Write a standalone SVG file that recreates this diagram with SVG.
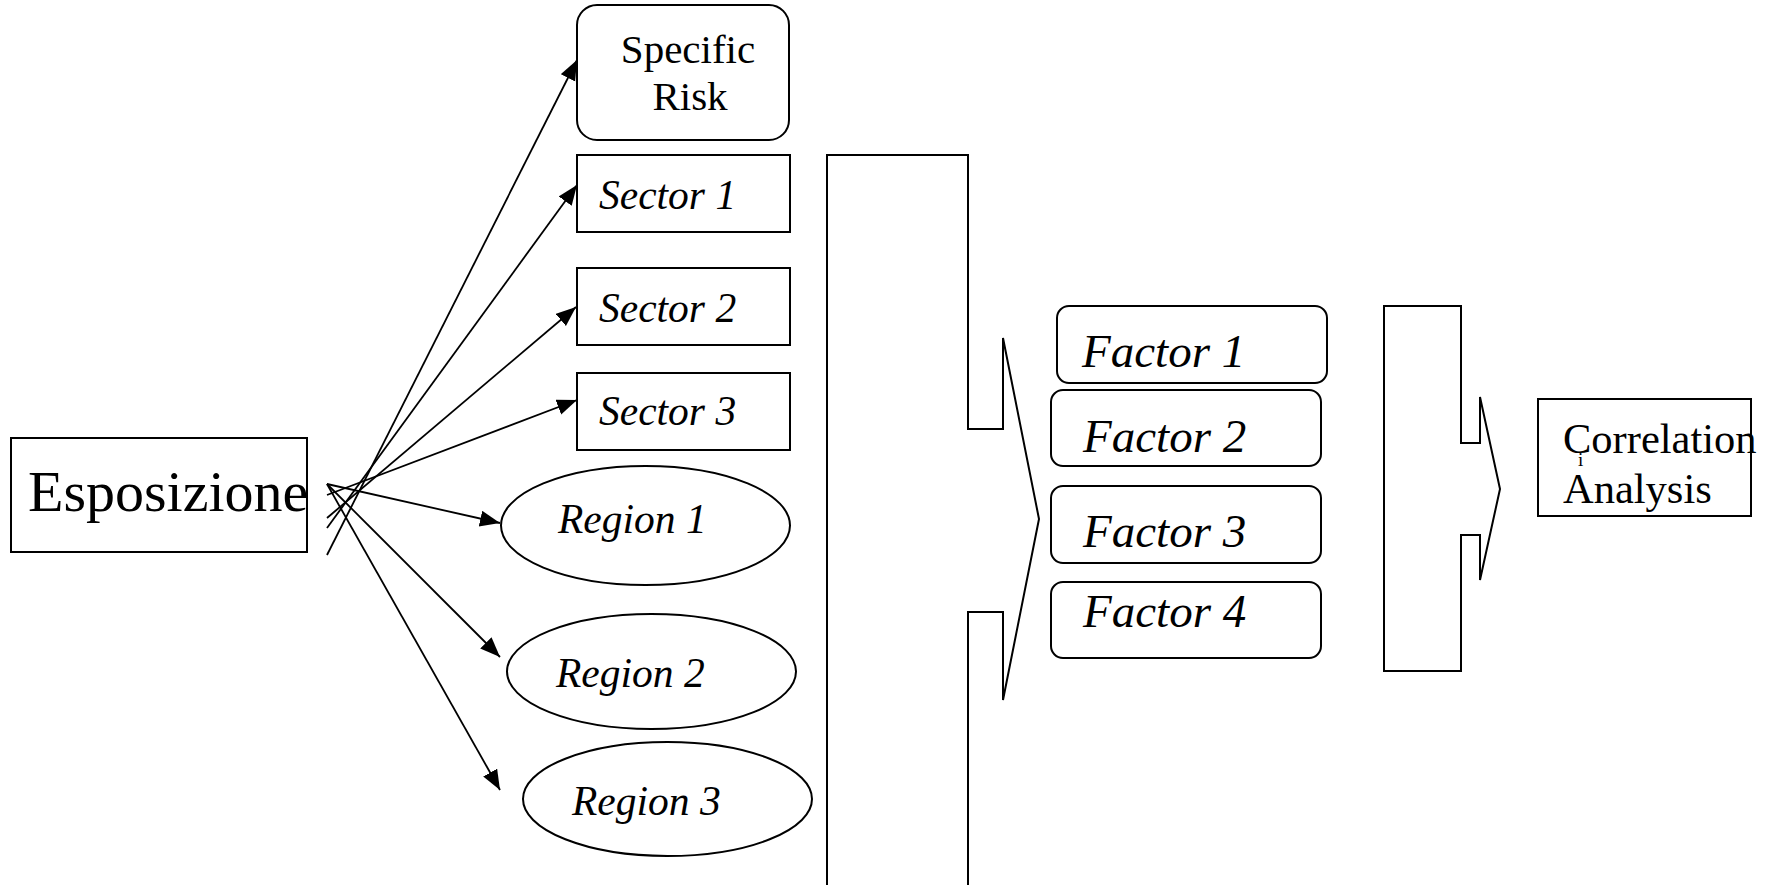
<svg xmlns="http://www.w3.org/2000/svg" width="1774" height="885" viewBox="0 0 1774 885">
<style>
.box{fill:#fff;stroke:#000;stroke-width:2}
.ln{fill:none;stroke:#000;stroke-width:1.8}
.t{font-family:"Liberation Serif","Times New Roman",serif;fill:#000}
.it{font-style:italic}
</style>
<defs>
<marker id="ah" markerUnits="userSpaceOnUse" markerWidth="22" markerHeight="18" refX="20" refY="8" orient="auto">
<path d="M0,0 L20,8 L0,16 z" fill="#000"/>
</marker>
</defs>
<rect width="1774" height="885" fill="#fff"/>
<g id="esposizione">
<rect class="box" x="11" y="438" width="296" height="114"/>
<text class="t" x="28" y="511" font-size="58">Esposizione</text>
</g>
<g id="specific-risk">
<rect class="box" x="577" y="5" width="212" height="135" rx="20"/>
<text class="t" x="688" y="63" font-size="41" text-anchor="middle">Specific</text>
<text class="t" x="690" y="110" font-size="41" text-anchor="middle">Risk</text>
</g>
<g id="sector1">
<rect class="box" x="577" y="155" width="213" height="77"/>
<text class="t it" x="599" y="209" font-size="41.5">Sector 1</text>
</g>
<g id="sector2">
<rect class="box" x="577" y="268" width="213" height="77"/>
<text class="t it" x="599" y="322" font-size="41.5">Sector 2</text>
</g>
<g id="sector3">
<rect class="box" x="577" y="373" width="213" height="77"/>
<text class="t it" x="599" y="425" font-size="41.5">Sector 3</text>
</g>
<g id="region1">
<ellipse class="box" cx="645.5" cy="525.5" rx="144.5" ry="59.5"/>
<text class="t it" x="558" y="533" font-size="41.5">Region 1</text>
</g>
<g id="region2">
<ellipse class="box" cx="651.5" cy="671.5" rx="144.5" ry="57.5"/>
<text class="t it" x="556" y="687" font-size="41.5">Region 2</text>
</g>
<g id="region3">
<ellipse class="box" cx="667.5" cy="799" rx="144.5" ry="57"/>
<text class="t it" x="572" y="815" font-size="41.5">Region 3</text>
</g>
<g id="big-arrow-1">
<polygon class="box" points="827,155 968,155 968,429 1003,429 1003,338 1039,519 1003,700 1003,612 968,612 968,900 827,900"/>
</g>
<g id="factor1">
<rect class="box" x="1057" y="306" width="270" height="77" rx="12"/>
<text class="t it" x="1082" y="367" font-size="47">Factor 1</text>
</g>
<g id="factor2">
<rect class="box" x="1051" y="390" width="270" height="76" rx="12"/>
<text class="t it" x="1083" y="452" font-size="47">Factor 2</text>
</g>
<g id="factor3">
<rect class="box" x="1051" y="486" width="270" height="77" rx="12"/>
<text class="t it" x="1083" y="547" font-size="47">Factor 3</text>
</g>
<g id="factor4">
<rect class="box" x="1051" y="582" width="270" height="76" rx="12"/>
<text class="t it" x="1083" y="627" font-size="47">Factor 4</text>
</g>
<g id="big-arrow-2">
<polygon class="box" points="1384,306 1461,306 1461,443 1480,443 1480,397 1500,489 1480,580 1480,535 1461,535 1461,671 1384,671"/>
</g>
<g id="correlation">
<rect class="box" x="1538" y="399" width="213" height="117"/>
<text class="t" x="1563" y="453" font-size="42.5">Correlation</text>
<text class="t" x="1563" y="503" font-size="42.5">Analysis</text>
<text class="t" x="1578" y="466" font-size="19">i</text>
</g>
<g id="connectors">
<line class="ln" x1="327" y1="555" x2="577" y2="60" marker-end="url(#ah)"/>
<line class="ln" x1="327" y1="528" x2="577" y2="185" marker-end="url(#ah)"/>
<line class="ln" x1="327" y1="518" x2="576" y2="307" marker-end="url(#ah)"/>
<line class="ln" x1="327" y1="495" x2="577" y2="400" marker-end="url(#ah)"/>
<line class="ln" x1="327" y1="484" x2="500" y2="523" marker-end="url(#ah)"/>
<line class="ln" x1="327" y1="484" x2="500" y2="657" marker-end="url(#ah)"/>
<line class="ln" x1="327" y1="484" x2="500" y2="790" marker-end="url(#ah)"/>
</g>
</svg>
